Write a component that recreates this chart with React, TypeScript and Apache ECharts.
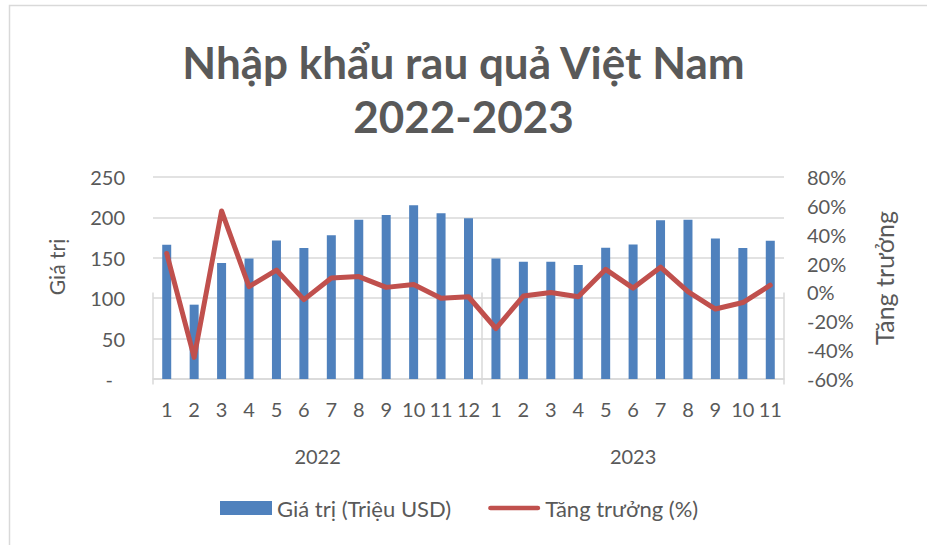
import React, { useEffect, useRef } from "react";
import * as echarts from "echarts";

const monthLabels = ["1","2","3","4","5","6","7","8","9","10","11","12","1","2","3","4","5","6","7","8","9","10","11"];
const yearLabels = ["2022", "2023"];
const yearSpans = [12, 11];
const importValues = [166, 92, 143.5, 149, 171.5, 162, 178, 197, 203, 215, 205, 199, 149, 145, 145, 141, 162.5, 166.5, 196.5, 197, 174, 162, 171];
const growthValues = [27, -45, 56.5, 4, 15.5, -5, 10, 11, 3.5, 5.5, -4, -3, -25, -2.5, 0, -3, 16, 3, 17.5, 0.5, -11.5, -7, 5];
const leftTicks = { min: 0, max: 250, interval: 50 };
const rightTicks = { min: -60, max: 80, interval: 20 };

const FONT = "Lato";
const GREY = "#595959";
const LINE = "#d9d9d9";

export default function App() {
  const ref = useRef<HTMLDivElement>(null);
  useEffect(() => {
    if (!ref.current) return;
    const chart = echarts.init(ref.current, undefined, { renderer: "svg" });

    // half-step category axis for year grouping
    const total = yearSpans.reduce((a, b) => a + b, 0);
    const halfCount = total * 2 + 1;
    const halfData: string[] = [];
    const boundaries = new Set<number>([0]);
    const labelAt = new Map<number, string>();
    let acc = 0;
    yearSpans.forEach((s, i) => {
      labelAt.set(acc * 2 + s, yearLabels[i]);
      acc += s;
      boundaries.add(acc * 2);
    });
    for (let k = 0; k < halfCount; k++) halfData.push(labelAt.get(k) ?? "");

    chart.setOption({
      animation: false,
      backgroundColor: "#ffffff",
      title: {
        text: "Nhập khẩu rau quả Việt Nam\n2022-2023",
        left: "center",
        top: 30,
        textStyle: {
          fontFamily: FONT,
          fontWeight: "bold",
          fontSize: 44,
          color: GREY,
          lineHeight: 54,
        },
      },
      graphic: [
        {
          type: "rect",
          shape: { x: 9.5, y: 5.5, width: 2000, height: 2000 },
          style: { fill: "none", stroke: LINE, lineWidth: 1.5 },
          silent: true,
        },
      ],
      legend: {
        left: 220,
        top: 497,
        padding: 0,
        itemWidth: 52,
        itemHeight: 14,
        itemGap: 37,
        textStyle: { fontFamily: FONT, fontSize: 22, color: GREY },
        data: [
          { name: "Giá trị (Triệu USD)", icon: "rect" },
          {
            name: "Tăng trưởng (%)",
            icon: "path://M2.5,0 L53.5,0 A2.5,2.5 0 0 1 53.5,5 L2.5,5 A2.5,2.5 0 0 1 2.5,0 Z",
          },
        ],
      },
      grid: { left: 153, right: 143, top: 177, bottom: 166 },
      xAxis: [
        {
          type: "category",
          data: monthLabels,
          position: "bottom",
          axisLine: { show: true, lineStyle: { color: LINE, width: 1.5 } },
          axisTick: { show: false },
          axisLabel: {
            interval: 0,
            margin: 20,
            fontFamily: FONT,
            fontSize: 20,
            color: GREY,
          },
        },
        {
          type: "category",
          data: halfData,
          boundaryGap: false,
          position: "bottom",
          axisLine: { show: false },
          axisTick: {
            show: true,
            length: 92,
            interval: (i: number) => boundaries.has(i),
            lineStyle: { color: LINE, width: 1.5 },
          },
          axisLabel: {
            interval: (i: number) => labelAt.has(i),
            margin: 67,
            fontFamily: FONT,
            fontSize: 20,
            color: GREY,
          },
        },
      ],
      yAxis: [
        {
          type: "value",
          ...leftTicks,
          name: "Giá trị",
          nameLocation: "middle",
          nameRotate: 90,
          nameGap: 86,
          nameTextStyle: { fontFamily: FONT, fontSize: 21, color: GREY, padding: [0, 0, 0, 22] },
          axisLine: { show: false },
          axisTick: { show: false },
          splitLine: { lineStyle: { color: LINE, width: 1.5 } },
          axisLabel: {
            margin: 28,
            fontFamily: FONT,
            fontSize: 20,
            color: GREY,
            formatter: (v: number) => (v === 0 ? "{d|-}" : String(v)),
            rich: { d: { fontFamily: FONT, fontSize: 20, color: GREY, padding: [0, 12, 0, 0] } },
          },
        },
        {
          type: "value",
          ...rightTicks,
          position: "right",
          name: "Tăng trưởng",
          nameLocation: "middle",
          nameRotate: 90,
          nameGap: 87,
          nameTextStyle: { fontFamily: FONT, fontSize: 25, color: GREY },
          axisLine: { show: false },
          axisTick: { show: false },
          splitLine: { show: false },
          axisLabel: {
            margin: 23,
            fontFamily: FONT,
            fontSize: 20,
            color: GREY,
            formatter: (v: number) => v + "%",
          },
        },
      ],
      series: [
        {
          name: "Giá trị (Triệu USD)",
          type: "bar",
          data: importValues,
          xAxisIndex: 0,
          yAxisIndex: 0,
          barWidth: 9,
          itemStyle: { color: "#4f81bd" },
        },
        {
          name: "Tăng trưởng (%)",
          type: "line",
          data: growthValues,
          xAxisIndex: 0,
          yAxisIndex: 1,
          symbol: "none",
          itemStyle: { color: "#c0504d" },
          lineStyle: { color: "#c0504d", width: 5, cap: "round", join: "round" },
        },
      ],
    });
    return () => chart.dispose();
  }, []);
  return (
    <div
      ref={ref}
      style={{ position: "fixed", left: 0, top: 0, width: 927, height: 545, background: "#fff" }}
    />
  );
}
